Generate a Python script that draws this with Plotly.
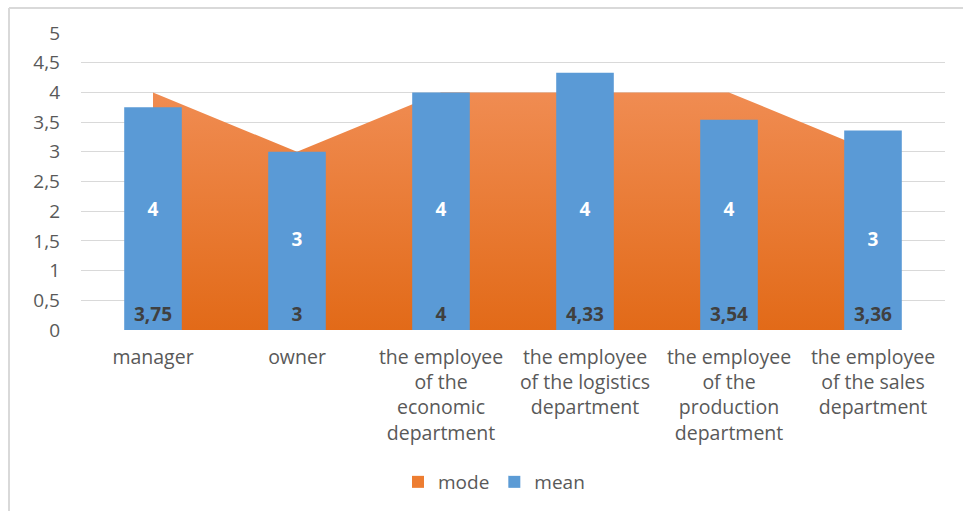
import plotly.graph_objects as go

categories = ["manager", "owner",
              "the employee<br>of the<br>economic<br>department",
              "the employee<br>of the logistics<br>department",
              "the employee<br>of the<br>production<br>department",
              "the employee<br>of the sales<br>department"]
mode_vals = [4, 3, 4, 4, 4, 3]
mean_vals = [3.75, 3, 4, 4.33, 3.54, 3.36]
y_ticks = [0, 0.5, 1, 1.5, 2, 2.5, 3, 3.5, 4, 4.5, 5]

def fmt(v):
    s = ("%.2f" % v).rstrip("0").rstrip(".")
    return s.replace(".", ",")

y_ticktext = [fmt(v) for v in y_ticks]
xpos = list(range(len(categories)))

FONT = "Open Sans"
GRAY = "#595959"

fig = go.Figure()

# area (mode) on base axes
fig.add_trace(go.Scatter(
    x=xpos, y=mode_vals, mode="none", fill="tozeroy",
    fillgradient=dict(type="vertical", start=0, stop=4,
                      colorscale=[[0, "#E26A18"], [1, "#F08C52"]]),
    showlegend=False, hoverinfo="skip", xaxis="x", yaxis="y"))

# bars (mean) on overlay axes so they are drawn above the area
fig.add_trace(go.Bar(
    x=xpos, y=mean_vals, width=0.4, marker=dict(color="#5A9AD6", line=dict(width=0)),
    text=[fmt(v) for v in mean_vals], textposition="inside", insidetextanchor="start",
    textangle=0,
    textfont=dict(family=FONT, size=19, color="#404040", weight="bold"),
    showlegend=False, xaxis="x2", yaxis="y2"))

# mode labels at half height
fig.add_trace(go.Scatter(
    x=xpos, y=[v / 2 for v in mode_vals], mode="text",
    text=[fmt(v) for v in mode_vals],
    textfont=dict(family=FONT, size=19, color="white", weight="bold"),
    showlegend=False, hoverinfo="skip", xaxis="x2", yaxis="y2"))

# legend entries
fig.add_trace(go.Scatter(x=[None], y=[None], mode="markers", name="mode",
                         marker=dict(symbol="square", size=12, color="#ED7D31")))
fig.add_trace(go.Scatter(x=[None], y=[None], mode="markers", name="mean",
                         marker=dict(symbol="square", size=12, color="#5B9BD5")))

xr = [-0.5, len(categories) - 0.5]
yr = [0, 5]

fig.update_layout(
    width=963, height=511,
    margin=dict(l=81, r=18, t=33, b=181, autoexpand=False),
    plot_bgcolor="white", paper_bgcolor="white",
    font=dict(family=FONT, size=19, color=GRAY),
    xaxis=dict(range=xr, tickvals=xpos, ticktext=categories, showgrid=False,
               zeroline=False, showline=False, ticks="", automargin=False,
               ticklabelstandoff=13, tickfont=dict(size=19.5, color=GRAY)),
    yaxis=dict(range=yr, tickvals=y_ticks, ticktext=y_ticktext, showgrid=True,
               gridcolor="#D9D9D9", gridwidth=1, zeroline=False, showline=False,
               ticks="", automargin=False, ticklabelstandoff=20,
               tickfont=dict(size=19, color=GRAY)),
    xaxis2=dict(range=xr, overlaying="x", visible=False),
    yaxis2=dict(range=yr, overlaying="y", visible=False),
    legend=dict(orientation="h", x=0.478, xanchor="center",
                yref="container", y=1 - 482 / 511, yanchor="middle",
                font=dict(size=19, color=GRAY), itemwidth=30),
    shapes=[
        dict(type="line", xref="paper", yref="paper", x0=(9 - 81) / 864, x1=(963 - 81) / 864,
             y0=(330 - 8) / 297, y1=(330 - 8) / 297, line=dict(color="#D9D9D9", width=2)),
        dict(type="line", xref="paper", yref="paper", x0=(9 - 81) / 864, x1=(9 - 81) / 864,
             y0=(330 - 8) / 297, y1=(330 - 520) / 297, line=dict(color="#D9D9D9", width=2)),
    ],
)

fig.write_html("out.html")
